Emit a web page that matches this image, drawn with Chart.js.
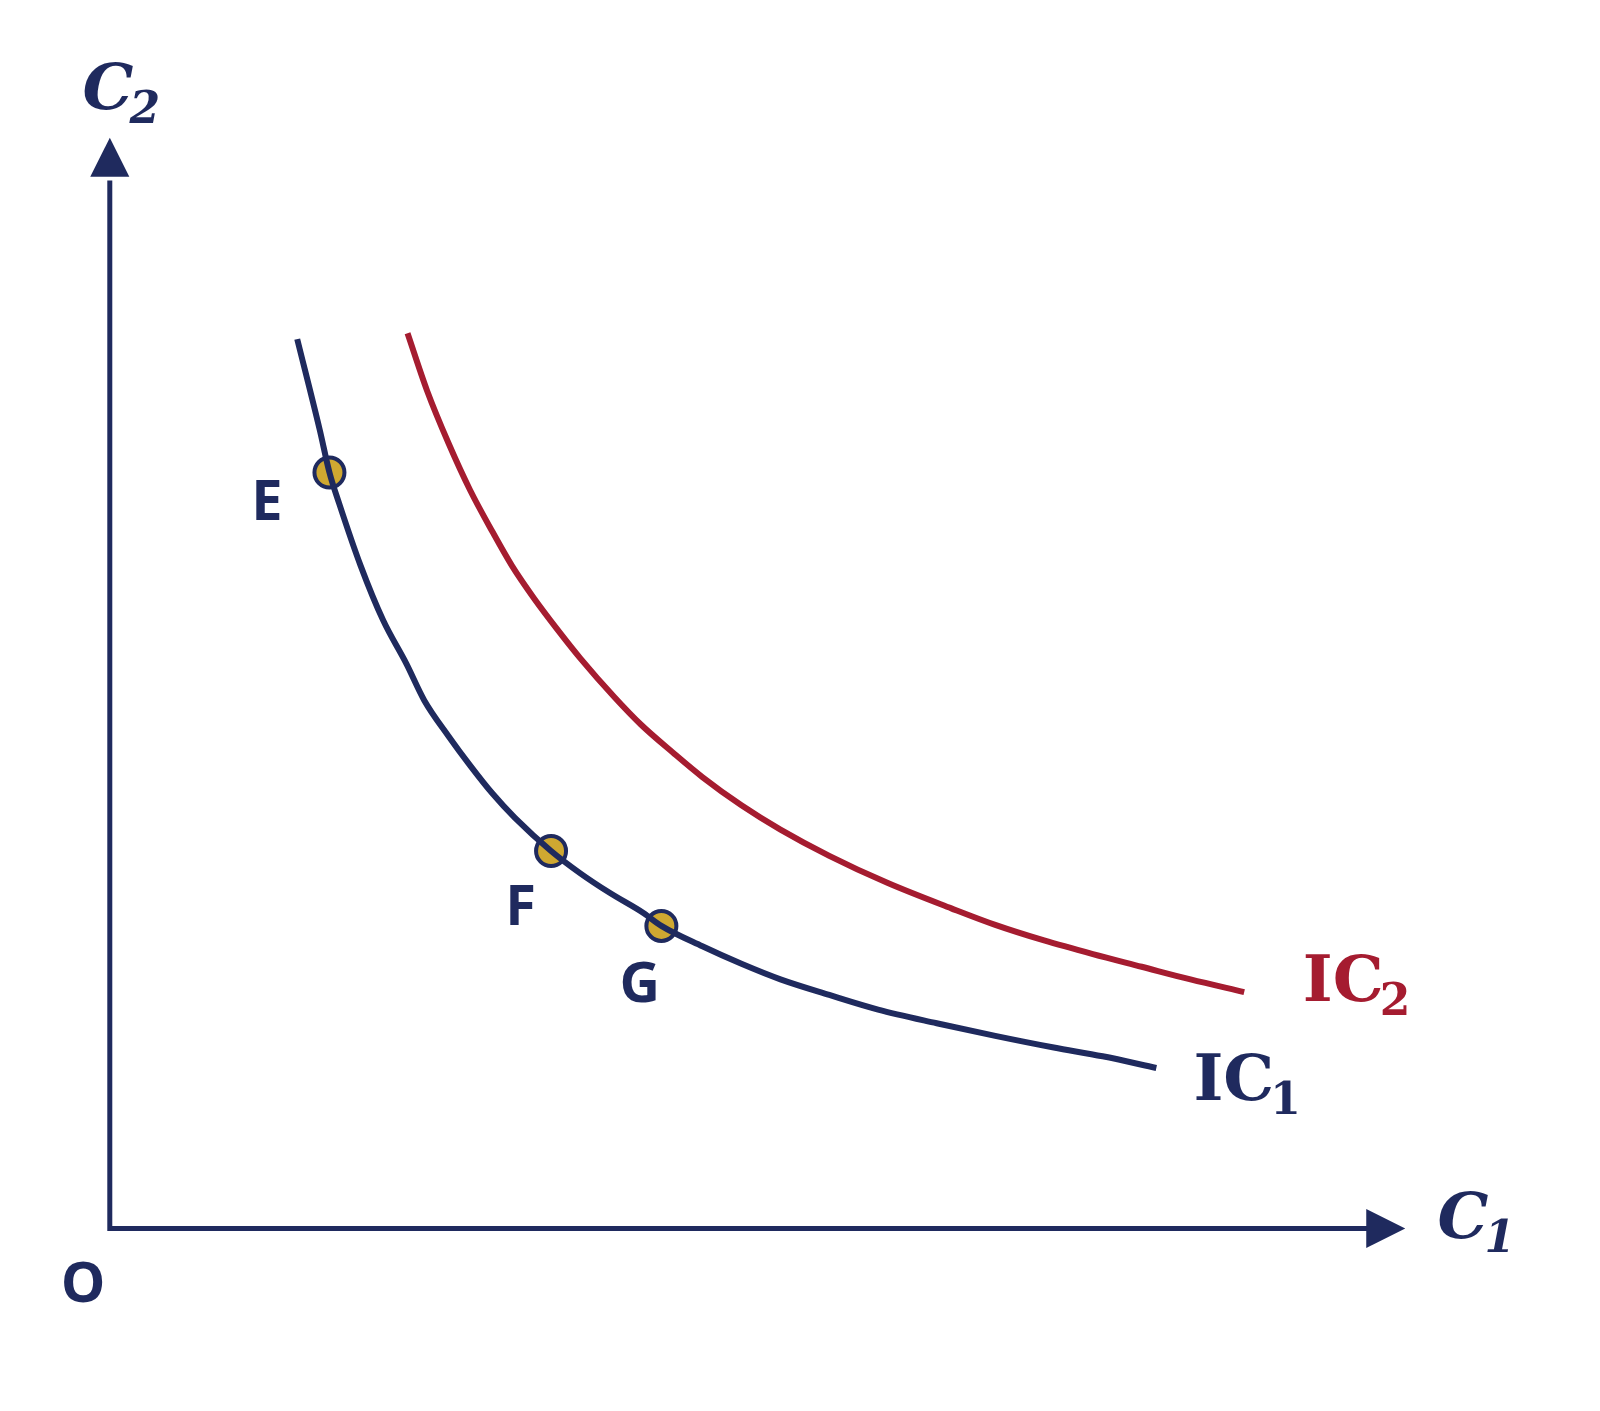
<!DOCTYPE html>
<html lang="en">
<head>
<meta charset="UTF-8">
<title>Indifference curves</title>
<style>html,body{margin:0;padding:0;background:#fff;overflow:hidden}canvas{display:block}</style>
</head>
<body>
<canvas id="myChart" width="1600" height="1411"></canvas>
<script src="https://cdn.jsdelivr.net/npm/chart.js"></script>
<script>
    // curve points (C1, C2), origin at O
    const ic1X = [192, 215, 225, 235, 257, 280, 304, 322, 347, 369, 392, 415, 452, 482, 512, 547, 565, 607, 647, 687, 737, 787, 847, 907, 967, 1017, 1072];
    const ic1Y = [914, 821, 777, 745, 681, 625, 580, 543, 506, 476, 447, 422, 388, 365, 345, 324, 311, 290, 272, 256, 240, 225, 211, 198, 186, 177, 165];
    const ic2X = [305, 325, 347, 369, 392, 412, 435, 459, 482, 517, 544, 577, 607, 647, 687, 737, 797, 862, 907, 957, 1007, 1057, 1107, 1162];
    const ic2Y = [920, 861, 807, 759, 716, 681, 647, 615, 586, 546, 518, 489, 464, 435, 410, 383, 355, 329, 312, 296, 282, 269, 256, 243];
    const pointNames = ['E', 'F', 'G'];
    const pointX = [225, 452, 565];
    const pointY = [777, 388, 311];

    const navy = '#1f2a5e';
    const red = '#a51c30';
    const gold = '#cfa831';

    const zip = (xs, ys) => xs.map((x, i) => ({x: x, y: ys[i]}));

    const overlay = {
        id: 'overlay',
        afterDraw(chart) {
            const c = chart.ctx, sx = chart.scales.x, sy = chart.scales.y;
            const X = v => sx.getPixelForValue(v), Y = v => sy.getPixelForValue(v);
            c.save();
            c.strokeStyle = navy; c.fillStyle = navy; c.lineWidth = 5;
            c.beginPath();
            c.moveTo(X(0), Y(1077)); c.lineTo(X(0), Y(0)); c.lineTo(X(1290), Y(0));
            c.stroke();
            c.beginPath();
            c.moveTo(X(0), Y(1121)); c.lineTo(X(-20), Y(1081)); c.lineTo(X(20), Y(1081)); c.fill();
            c.beginPath();
            c.moveTo(X(1327), Y(0)); c.lineTo(X(1287), Y(20)); c.lineTo(X(1287), Y(-20)); c.fill();

            c.textBaseline = 'alphabetic';
            c.font = 'bold 56px "Noto Sans"';
            c.fillText(pointNames[0], X(145), Y(728));
            c.fillText(pointNames[1], X(405), Y(312));
            c.fillText(pointNames[2], X(522), Y(233));
            c.fillText('O', X(-50), Y(-76));

            function sub(txt, s, x, y, col, italic) {
                c.fillStyle = col;
                c.font = (italic ? 'italic ' : '') + 'bold 64px "DejaVu Serif"';
                c.fillText(txt, x, y);
                const w = c.measureText(txt).width;
                c.font = (italic ? 'italic ' : '') + 'bold 44px "DejaVu Serif"';
                c.fillText(s, x + w - 4, y + 14);
            }
            sub('C', '2', X(-28), Y(1150), navy, true);
            sub('C', '1', X(1360), Y(-10), navy, true);
            sub('IC', '1', X(1110), Y(132), navy, false);
            sub('IC', '2', X(1222), Y(234), red, false);
            c.restore();
        }
    };

    new Chart(document.getElementById('myChart'), {
        type: 'scatter',
        data: {
            datasets: [
                {data: zip(ic1X, ic1Y), showLine: true, borderColor: navy, borderWidth: 6, pointRadius: 0, cubicInterpolationMode: 'monotone'},
                {data: zip(ic2X, ic2Y), showLine: true, borderColor: red, borderWidth: 6, pointRadius: 0, cubicInterpolationMode: 'monotone'},
                {data: zip(pointX, pointY), pointRadius: 15, pointBackgroundColor: gold, pointBorderColor: navy, pointBorderWidth: 4}
            ]
        },
        options: {
            responsive: false,
            animation: false,
            layout: {padding: 0},
            plugins: {legend: {display: false}, tooltip: {enabled: false}},
            scales: {
                x: {type: 'linear', min: -93, max: 1507, display: false},
                y: {type: 'linear', min: -168, max: 1243, display: false}
            }
        },
        plugins: [overlay]
    });
</script>
</body>
</html>
